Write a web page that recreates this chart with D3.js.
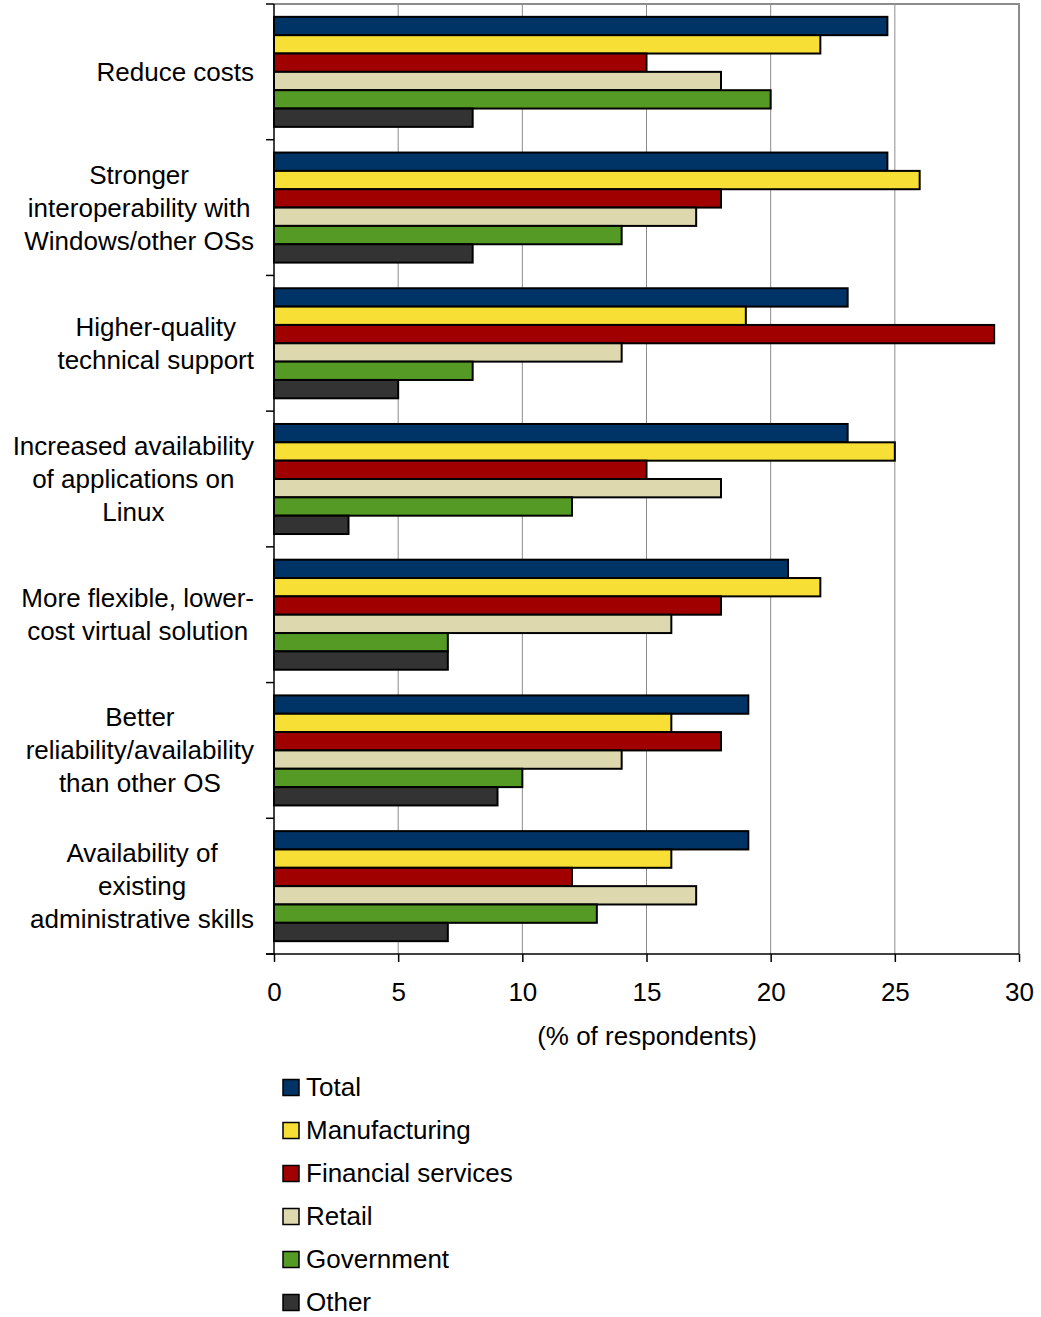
<!DOCTYPE html>
<html>
<head>
<meta charset="utf-8">
<script src="https://cdn.jsdelivr.net/npm/d3@7"></script>
<style>
  html, body { margin: 0; padding: 0; background: #fff; }
  svg { display: block; font-family: "Liberation Sans", Arial, sans-serif; }
</style>
</head>
<body>
<svg id="chart" width="1041" height="1317"></svg>
<script>
// Reasons for adopting Linux, by industry (% of respondents)
const categories = [
  ["Reduce costs"],
  ["Stronger", "interoperability with", "Windows/other OSs"],
  ["Higher-quality", "technical support"],
  ["Increased availability", "of applications on", "Linux"],
  ["More flexible, lower-", "cost virtual solution"],
  ["Better", "reliability/availability", "than other OS"],
  ["Availability of", "existing", "administrative skills"]
];
const seriesNames = ["Total", "Manufacturing", "Financial services", "Retail", "Government", "Other"];
const seriesColors = ["#003366", "#F7DF35", "#A00000", "#DDD8AE", "#559A25", "#333333"];

const total         = [24.7, 24.7, 23.1, 23.1, 20.7, 19.1, 19.1];
const manufacturing = [22, 26, 19, 25, 22, 16, 16];
const financial     = [15, 18, 29, 15, 18, 18, 12];
const retail        = [18, 17, 14, 18, 16, 14, 17];
const government    = [20, 14, 8, 12, 7, 10, 13];
const other         = [8, 8, 5, 3, 7, 9, 7];
const seriesValues = [total, manufacturing, financial, retail, government, other];

const xTicks = [0, 5, 10, 15, 20, 25, 30];
const axisTitle = "(% of respondents)";

const FONT = 26;
const svg = d3.select("#chart");
const plot = { left: 274, right: 1019, top: 4, bottom: 954 };

const x = d3.scaleLinear().domain([0, 30]).range([plot.left, plot.right]);
const y0 = d3.scaleBand().domain(d3.range(categories.length))
  .range([plot.top, plot.bottom]).paddingInner(0).paddingOuter(0);
const y1 = d3.scaleBand().domain(d3.range(seriesNames.length))
  .range([0, y0.bandwidth()]).paddingInner(0).paddingOuter(0.7);

// gridlines
svg.append("g").selectAll("line").data(xTicks.slice(1))
  .join("line")
  .attr("x1", d => x(d)).attr("x2", d => x(d))
  .attr("y1", plot.top).attr("y2", plot.bottom)
  .attr("stroke", "#8c8c8c").attr("stroke-width", 1);

// plot frame (top and right)
svg.append("path")
  .attr("d", `M${plot.left},${plot.top}H${plot.right}V${plot.bottom}`)
  .attr("fill", "none").attr("stroke", "#8c8c8c").attr("stroke-width", 2);

// bars
const groups = svg.append("g").selectAll("g").data(categories)
  .join("g")
  .attr("transform", (d, i) => `translate(0,${y0(i)})`);

groups.selectAll("rect")
  .data((d, i) => seriesValues.map((vals, s) => ({ s, v: vals[i] })))
  .join("rect")
  .attr("x", x(0))
  .attr("y", d => y1(d.s))
  .attr("width", d => x(d.v) - x(0))
  .attr("height", y1.bandwidth())
  .attr("fill", d => seriesColors[d.s])
  .attr("stroke", "#000").attr("stroke-width", 2);

// left category axis
const yAxis = svg.append("g");
yAxis.append("line")
  .attr("x1", plot.left).attr("x2", plot.left)
  .attr("y1", plot.top).attr("y2", plot.bottom)
  .attr("stroke", "#000").attr("stroke-width", 1.5);
yAxis.selectAll("line.tick").data(d3.range(categories.length + 1))
  .join("line").attr("class", "tick")
  .attr("x1", plot.left - 8).attr("x2", plot.left)
  .attr("y1", i => i < categories.length ? y0(i) : plot.bottom)
  .attr("y2", i => i < categories.length ? y0(i) : plot.bottom)
  .attr("stroke", "#000").attr("stroke-width", 1.5);

// category labels: each block centred, its widest line ending near the axis
const lineH = 33;
const labelRight = 254;
yAxis.selectAll("text.cat").data(categories)
  .join("text").attr("class", "cat")
  .attr("text-anchor", "middle")
  .attr("font-size", FONT)
  .attr("fill", "#000")
  .each(function (lines, i) {
    const t = d3.select(this);
    const cy = y0(i) + y0.bandwidth() / 2;
    const startY = cy - (lines.length - 1) * lineH / 2 + 9;
    const spans = t.selectAll("tspan").data(lines).join("tspan")
      .attr("y", (l, k) => startY + k * lineH)
      .text(l => l);
    let maxW = 0;
    spans.each(function () { maxW = Math.max(maxW, this.getComputedTextLength()); });
    spans.attr("x", labelRight - maxW / 2);
  });

// bottom value axis
const xAxis = svg.append("g").attr("transform", `translate(0,${plot.bottom})`)
  .call(d3.axisBottom(x).tickValues(xTicks).tickSize(8).tickSizeOuter(0));
xAxis.select(".domain").attr("stroke", "#000").attr("stroke-width", 1.5)
  .attr("d", `M${plot.left - 8},0H${plot.right}`);
xAxis.selectAll(".tick line").attr("stroke", "#000").attr("stroke-width", 1.5);
xAxis.selectAll(".tick text")
  .attr("font-size", FONT).attr("font-family", "Liberation Sans, Arial, sans-serif")
  .attr("fill", "#000").attr("dy", 0).attr("y", 47);

svg.append("text")
  .attr("x", 647).attr("y", 1045)
  .attr("text-anchor", "middle").attr("font-size", FONT).attr("fill", "#000")
  .text(axisTitle);

// legend
const legend = svg.append("g").selectAll("g").data(seriesNames)
  .join("g")
  .attr("transform", (d, i) => `translate(283,${1087.5 + i * 43})`);
legend.append("rect")
  .attr("x", 0).attr("y", -8).attr("width", 16).attr("height", 16)
  .attr("fill", (d, i) => seriesColors[i])
  .attr("stroke", "#000").attr("stroke-width", 1.5);
legend.append("text")
  .attr("x", 23).attr("y", 8.5)
  .attr("font-size", FONT).attr("fill", "#000")
  .text(d => d);
</script>
</body>
</html>
